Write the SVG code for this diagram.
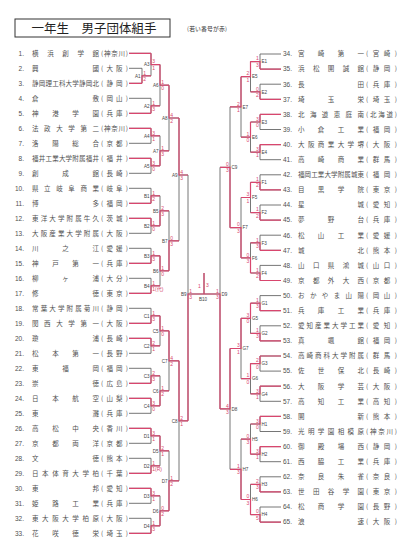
<svg xmlns="http://www.w3.org/2000/svg" width="404" height="554" viewBox="0 0 404 554">
<style>
.t{font-family:"Noto Sans CJK JP","Noto Sans",sans-serif;font-size:6.5px;fill:#505050}
.n{font-family:"Liberation Sans",sans-serif;font-size:6.5px;fill:#505050;text-anchor:end}
.nr{font-family:"Liberation Sans",sans-serif;font-size:6.5px;fill:#505050}
.lb{font-family:"Liberation Sans",sans-serif;font-size:4.6px;fill:#444;text-anchor:end}
.lr{font-family:"Liberation Sans",sans-serif;font-size:4.6px;fill:#444}
.s{font-family:"Liberation Sans","Noto Sans CJK JP",sans-serif;font-size:5px;fill:#d8466e}
.se{font-family:"Liberation Sans",sans-serif;font-size:5px;fill:#d8466e;text-anchor:end}
.k{fill:none;stroke:#666;stroke-width:0.9}
.r{fill:none;stroke:#d8466e;stroke-width:1.2}
</style>
<rect width="404" height="554" fill="#fff"/>
<g id="title">
<rect x="15" y="19" width="155" height="18" fill="none" stroke="#333" stroke-width="1"/>
<text x="94" y="32.5" text-anchor="middle" style="font-family:'Noto Sans CJK JP',sans-serif;font-size:12.5px;fill:#222">一年生　男子団体組手</text>
<text x="187" y="31" textLength="40" style="font-family:'Noto Sans CJK JP',sans-serif;font-size:5.8px;fill:#333">(若い番号が赤)</text>
</g>
<g id="connectors">
<path class="k" d="M129 53.3H151M129 68.3H142M129 83.3H142M129 98.3H151M129 113.3H151M129 128.3H151M129 143.3H151M129 158.3H151M129 173.3H151M129 188.3H151M129 203.3H151M129 218.3H151M129 233.3H151M129 248.3H151M129 263.3H151M129 278.3H151M129 293.3H151M129 308.3H151M129 323.3H151M129 338.3H151M129 353.3H151M129 368.3H151M129 383.3H151M129 398.3H151M129 413.3H151M129 428.3H151M129 443.3H151M129 458.3H151M129 473.3H151M129 488.3H151M129 503.3H151M129 518.3H151M129 533.3H151
M142 68.3V83.3M142 75.8H151M151 53.3V75.8M151 64.6H160M151 98.3V113.3M151 105.8H160M160 64.6V105.8M160 85.2H169M151 128.3V143.3M151 135.8H160M151 158.3V173.3M151 165.8H160M160 135.8V165.8M160 150.8H169M169 85.2V150.8M169 118H179
M151 188.3V203.3M151 195.8H160M151 218.3V233.3M151 225.8H160M160 195.8V225.8M160 210.8H169M151 248.3V263.3M151 255.8H160M151 278.3V293.3M151 285.8H160M160 255.8V285.8M160 270.8H169M169 210.8V270.8M169 240.8H179M179 118V240.8M179 175H188
M151 308.3V323.3M151 315.8H160M151 338.3V353.3M151 345.8H160M160 315.8V345.8M160 330.8H169M151 368.3V383.3M151 375.8H160M151 398.3V413.3M151 405.8H160M160 375.8V405.8M160 390.8H169M169 330.8V390.8M169 360.8H179
M151 428.3V443.3M151 435.8H160M151 458.3V473.3M151 465.8H160M160 435.8V465.8M160 450.8H169M151 488.3V503.3M151 495.8H160M151 518.3V533.3M151 525.8H160M160 495.8V525.8M160 510.8H169M169 450.8V510.8M169 480.8H179M179 360.8V480.8M179 420.8H188M188 175V420.8M188 294H204M204 273V294"/>
<path class="k" d="M281 54H260M281 69.1H260M281 84.2H260M281 99.3H260M281 114.4H260M281 129.5H260M281 144.6H260M281 159.7H260M281 174.8H260M281 189.9H260M281 205H260M281 220.1H260M281 235.2H260M281 250.3H260M281 265.4H260M281 280.5H260M281 295.6H260M281 310.7H260M281 325.8H260M281 340.9H260M281 356H260M281 371.1H260M281 386.2H260M281 401.3H260M281 416.4H260M281 431.5H260M281 446.6H260M281 461.7H260M281 476.8H260M281 491.9H260M281 507H260M281 522.1H260
M260 54V69.1M260 61.6H250.5M260 84.2V99.3M260 91.8H250.5M250.5 61.6V91.8M250.5 76.7H241M260 114.4V129.5M260 122H250.5M260 144.6V159.7M260 152.2H250.5M250.5 122V152.2M250.5 137.1H241M241 76.7V137.1M241 106.9H230
M260 174.8V189.9M260 182.4H250.5M260 205V220.1M260 212.6H250.5M250.5 182.4V212.6M250.5 197.5H241M260 235.2V250.3M260 242.8H250.5M260 265.4V280.5M260 273H250.5M250.5 242.8V273M250.5 257.9H241M241 197.5V257.9M241 227.7H230M230 106.9V227.7M230 167.3H220
M260 295.6V310.7M260 303.2H250.5M260 325.8V340.9M260 333.4H250.5M250.5 303.2V333.4M250.5 318.3H241M260 356V371.1M260 363.6H250.5M260 386.2V401.3M260 393.8H250.5M250.5 363.6V393.8M250.5 378.7H241M241 318.3V378.7M241 348.5H230
M260 416.4V431.5M260 424H250.5M260 446.6V461.7M260 454.2H250.5M250.5 424V454.2M250.5 439.1H241M260 476.8V491.9M260 484.4H250.5M260 507V522.1M260 514.6H250.5M250.5 484.4V514.6M250.5 499.5H241M241 439.1V499.5M241 469.3H230M230 348.5V469.3M230 408.9H220M220 167.3V408.9M220 294H204"/>
<path class="r" d="M129 53.3H151M129 83.3H142M129 113.3H151M129 128.3H151M129 158.3H151M129 203.3H151M129 218.3H151M129 263.3H151M129 293.3H151M129 323.3H151M129 338.3H151M129 383.3H151M129 398.3H151M129 428.3H151M129 473.3H151M129 488.3H151M129 533.3H151
M142 83.3V75.8H151M151 53.3V64.6H160M151 113.3V105.8H160M160 64.6V85.2H169M151 128.3V135.8H160M151 158.3V165.8H160M160 165.8V150.8H169M169 85.2V118H179
M151 203.3V195.8H160M151 218.3V225.8H160M160 225.8V210.8H169M151 263.3V255.8H160M151 293.3V285.8H160M160 255.8V270.8H169M169 270.8V240.8H179M179 118V175H188
M151 323.3V315.8H160M151 338.3V345.8H160M160 315.8V330.8H169M151 383.3V375.8H160M151 398.3V405.8H160M160 405.8V390.8H169M169 330.8V360.8H179
M151 428.3V435.8H160M151 473.3V465.8H160M160 435.8V450.8H169M151 488.3V495.8H160M151 533.3V525.8H160M160 525.8V510.8H169M169 510.8V480.8H179M179 360.8V420.8H188M188 420.8V294H204M204 294V273"/>
<path class="r" d="M281 69.1H260M281 99.3H260M281 114.4H260M281 144.6H260M281 189.9H260M281 220.1H260M281 250.3H260M281 280.5H260M281 310.7H260M281 340.9H260M281 356H260M281 386.2H260M281 416.4H260M281 446.6H260M281 491.9H260M281 522.1H260
M260 69.1V61.6H250.5M260 99.3V91.8H250.5M250.5 61.6V76.7H241M260 114.4V122H250.5M260 144.6V152.2H250.5M250.5 122V137.1H241M241 76.7V106.9H230
M260 189.9V182.4H250.5M260 220.1V212.6H250.5M250.5 182.4V197.5H241M260 250.3V242.8H250.5M260 280.5V273H250.5M250.5 273V257.9H241M241 257.9V227.7H230M230 227.7V167.3H220
M260 310.7V303.2H250.5M260 340.9V333.4H250.5M250.5 303.2V318.3H241M260 356V363.6H250.5M260 386.2V393.8H250.5M250.5 363.6V378.7H241M241 318.3V348.5H230
M260 416.4V424H250.5M260 446.6V454.2H250.5M250.5 454.2V439.1H241M260 491.9V484.4H250.5M260 522.1V514.6H250.5M250.5 514.6V499.5H241M241 499.5V469.3H230M230 348.5V408.9H220M220 408.9V294H204"/>
</g>
<g id="match-labels">
<text class="lb" x="140.5" y="77.5">A1</text><text class="lb" x="149.5" y="66.3">A3</text><text class="lb" x="149.5" y="107.5">A2</text><text class="lb" x="158.5" y="86.9">A6</text><text class="lb" x="149.5" y="137.5">A4</text><text class="lb" x="149.5" y="167.5">A5</text><text class="lb" x="158.5" y="152.5">A7</text><text class="lb" x="167.5" y="119.7">A8</text>
<text class="lb" x="149.5" y="197.5">B1</text><text class="lb" x="149.5" y="227.5">B2</text><text class="lb" x="158.5" y="212.5">B5</text><text class="lb" x="149.5" y="257.5">B3</text><text class="lb" x="149.5" y="287.5">B4</text><text class="lb" x="158.5" y="272.5">B6</text><text class="lb" x="167.5" y="242.5">B7</text><text class="lb" x="177.5" y="176.7">A9</text>
<text class="lb" x="149.5" y="317.5">C1</text><text class="lb" x="149.5" y="347.5">C2</text><text class="lb" x="158.5" y="332.5">C5</text><text class="lb" x="149.5" y="377.5">C3</text><text class="lb" x="149.5" y="407.5">C4</text><text class="lb" x="158.5" y="392.5">C6</text><text class="lb" x="167.5" y="362.5">C7</text>
<text class="lb" x="149.5" y="437.5">D1</text><text class="lb" x="149.5" y="467.5">D2</text><text class="lb" x="158.5" y="452.5">D5</text><text class="lb" x="149.5" y="497.5">D3</text><text class="lb" x="149.5" y="527.5">D4</text><text class="lb" x="158.5" y="512.5">D6</text><text class="lb" x="167.5" y="482.5">D7</text><text class="lb" x="177.5" y="422.5">C8</text>
<text class="lb" x="186.5" y="295.7">B9</text><text class="lr" x="199" y="300.5">B10</text>
<text class="lr" x="261.5" y="63.3">E1</text><text class="lr" x="261.5" y="93.5">E2</text><text class="lr" x="252" y="78.4">E5</text><text class="lr" x="261.5" y="123.7">E3</text><text class="lr" x="261.5" y="153.9">E4</text><text class="lr" x="252" y="138.8">E6</text><text class="lr" x="242.5" y="108.6">E7</text>
<text class="lr" x="261.5" y="184.1">F1</text><text class="lr" x="261.5" y="214.3">F2</text><text class="lr" x="252" y="199.2">F5</text><text class="lr" x="261.5" y="244.5">F3</text><text class="lr" x="261.5" y="274.7">F4</text><text class="lr" x="252" y="259.6">F6</text><text class="lr" x="242.5" y="229.4">F7</text><text class="lr" x="231.5" y="169">C9</text>
<text class="lr" x="261.5" y="304.9">G1</text><text class="lr" x="261.5" y="335.1">G2</text><text class="lr" x="252" y="320">G5</text><text class="lr" x="261.5" y="365.3">G3</text><text class="lr" x="261.5" y="395.5">G4</text><text class="lr" x="252" y="380.4">G6</text><text class="lr" x="242.5" y="350.2">G7</text>
<text class="lr" x="261.5" y="425.7">H1</text><text class="lr" x="261.5" y="455.9">H2</text><text class="lr" x="252" y="440.8">H5</text><text class="lr" x="261.5" y="486.1">H3</text><text class="lr" x="261.5" y="516.3">H4</text><text class="lr" x="252" y="501.2">H6</text><text class="lr" x="242.5" y="471">H7</text><text class="lr" x="231.5" y="410.6">D8</text><text class="lr" x="221.5" y="295.7">D9</text>
</g>
<g id="scores">
<text class="s" x="143.2" y="74.5">1</text><text class="s" x="143.2" y="80.8">2</text><text class="s" x="152.2" y="63.3">3</text><text class="s" x="152.2" y="69.6">1</text><text class="s" x="152.2" y="104.5">1</text><text class="s" x="152.2" y="110.8">3</text><text class="s" x="161.2" y="83.9">1</text><text class="s" x="161.2" y="90.2">0</text><text class="s" x="152.2" y="134.5">3</text><text class="s" x="152.2" y="140.8">1</text><text class="s" x="152.2" y="164.5">3</text><text class="s" x="152.2" y="170.8">0</text><text class="s" x="161.2" y="149.5">1</text><text class="s" x="161.2" y="155.8">3</text><text class="s" x="170.2" y="116.7">4</text><text class="s" x="170.2" y="123">2</text>
<text class="s" x="152.2" y="194.5">1</text><text class="s" x="152.2" y="200.8">2</text><text class="s" x="152.2" y="224.5">1</text><text class="s" x="152.2" y="230.8">0</text><text class="s" x="161.2" y="209.5">2</text><text class="s" x="161.2" y="215.8">3</text><text class="s" x="152.2" y="254.5">1</text><text class="s" x="152.2" y="260.8">3</text><text class="s" x="152.2" y="284.5">1</text><text class="s" x="152.2" y="290.8">1(代)</text><text class="s" x="161.2" y="269.5">1</text><text class="s" x="161.2" y="275.8">0</text><text class="s" x="170.2" y="239.5">0</text><text class="s" x="170.2" y="245.8">3</text><text class="s" x="180.2" y="173.7">4</text><text class="s" x="180.2" y="180">3</text>
<text class="s" x="152.2" y="314.5">1</text><text class="s" x="152.2" y="320.8">3</text><text class="s" x="152.2" y="344.5">2</text><text class="s" x="152.2" y="350.8">1</text><text class="s" x="161.2" y="329.5">1</text><text class="s" x="161.2" y="335.8">0</text><text class="s" x="152.2" y="374.5">2</text><text class="s" x="152.2" y="380.8">3</text><text class="s" x="152.2" y="404.5">3</text><text class="s" x="152.2" y="410.8">0</text><text class="s" x="161.2" y="389.5">1</text><text class="s" x="161.2" y="395.8">2</text><text class="s" x="170.2" y="359.5">4</text><text class="s" x="170.2" y="365.8">2</text>
<text class="s" x="152.2" y="434.5">3</text><text class="s" x="152.2" y="440.8">1</text><text class="s" x="152.2" y="464.5">1</text><text class="s" x="152.2" y="470.8">1(R)</text><text class="s" x="161.2" y="449.5">2</text><text class="s" x="161.2" y="455.8">1</text><text class="s" x="152.2" y="494.5">3</text><text class="s" x="152.2" y="500.8">1</text><text class="s" x="152.2" y="524.5">1</text><text class="s" x="152.2" y="530.8">3</text><text class="s" x="161.2" y="509.5">0</text><text class="s" x="161.2" y="515.8">2</text><text class="s" x="170.2" y="479.5">1</text><text class="s" x="170.2" y="485.8">2</text><text class="s" x="180.2" y="419.5">2</text><text class="s" x="180.2" y="425.8">1</text>
<text class="s" x="189.2" y="292.7">1</text><text class="s" x="189.2" y="299">3</text><text class="s" x="198" y="288">1</text><text class="s" x="206" y="287">3</text>
<text class="se" x="258.8" y="60.3">1</text><text class="se" x="258.8" y="66.6">3</text><text class="se" x="258.8" y="90.5">0</text><text class="se" x="258.8" y="96.8">2</text><text class="se" x="249.3" y="75.4">2</text><text class="se" x="249.3" y="81.7">1</text><text class="se" x="258.8" y="120.7">3</text><text class="se" x="258.8" y="127">0</text><text class="se" x="258.8" y="150.9">3</text><text class="se" x="258.8" y="157.2">1</text><text class="se" x="249.3" y="135.8">1</text><text class="se" x="249.3" y="142.1">0</text><text class="se" x="239.8" y="105.6">2</text><text class="se" x="239.8" y="111.9">1</text><text class="se" x="228.8" y="166">0</text><text class="se" x="228.8" y="172.3">3</text>
<text class="se" x="258.8" y="181.1">1</text><text class="se" x="258.8" y="187.4">2</text><text class="se" x="258.8" y="211.3">1</text><text class="se" x="258.8" y="217.6">2</text><text class="se" x="249.3" y="196.2">3</text><text class="se" x="249.3" y="202.5">1</text><text class="se" x="258.8" y="241.5">1</text><text class="se" x="258.8" y="247.8">3</text><text class="se" x="258.8" y="271.7">1</text><text class="se" x="258.8" y="278">2</text><text class="se" x="249.3" y="256.6">0</text><text class="se" x="249.3" y="262.9">3</text><text class="se" x="239.8" y="226.4">0</text><text class="se" x="239.8" y="232.7">3</text>
<text class="se" x="258.8" y="301.9">1</text><text class="se" x="258.8" y="308.2">3</text><text class="se" x="258.8" y="332.1">1</text><text class="se" x="258.8" y="338.4">3</text><text class="se" x="249.3" y="317">3</text><text class="se" x="249.3" y="323.3">0</text><text class="se" x="258.8" y="362.3">2</text><text class="se" x="258.8" y="368.6">0</text><text class="se" x="258.8" y="392.5">3</text><text class="se" x="258.8" y="398.8">1</text><text class="se" x="249.3" y="377.4">1</text><text class="se" x="249.3" y="383.7">0</text><text class="se" x="239.8" y="347.2">3</text><text class="se" x="239.8" y="353.5">1</text>
<text class="se" x="258.8" y="422.7">3</text><text class="se" x="258.8" y="429">0</text><text class="se" x="258.8" y="452.9">3</text><text class="se" x="258.8" y="459.2">1</text><text class="se" x="249.3" y="437.8">0</text><text class="se" x="249.3" y="444.1">3</text><text class="se" x="258.8" y="483.1">2</text><text class="se" x="258.8" y="489.4">3</text><text class="se" x="258.8" y="513.3">0</text><text class="se" x="258.8" y="519.6">5</text><text class="se" x="249.3" y="498.2">0</text><text class="se" x="249.3" y="504.5">3</text><text class="se" x="239.8" y="468">1</text><text class="se" x="239.8" y="474.3">3</text><text class="se" x="228.8" y="407.6">4</text><text class="se" x="228.8" y="413.9">3</text><text class="se" x="218.8" y="292.7">1</text><text class="se" x="218.8" y="299">3</text>
</g>
<g id="e1" transform="translate(0,53.3)"><text class="n" x="24" y="2.3">1.</text><text class="t" x="32" y="2.3" textLength="67">横浜創学館</text><text class="t" x="101" y="2.3" textLength="27">(神奈川)</text></g>
<g id="e2" transform="translate(0,68.3)"><text class="n" x="24" y="2.3">2.</text><text class="t" x="32" y="2.3" textLength="67">興國</text><text class="t" x="101" y="2.3" textLength="27">(大阪)</text></g>
<g id="e3" transform="translate(0,83.3)"><text class="n" x="24" y="2.3">3.</text><text class="t" x="32" y="2.3" textLength="67">静岡理工科大学静岡北</text><text class="t" x="101" y="2.3" textLength="27">(静岡)</text></g>
<g id="e4" transform="translate(0,98.3)"><text class="n" x="24" y="2.3">4.</text><text class="t" x="32" y="2.3" textLength="67">倉敷</text><text class="t" x="101" y="2.3" textLength="27">(岡山)</text></g>
<g id="e5" transform="translate(0,113.3)"><text class="n" x="24" y="2.3">5.</text><text class="t" x="32" y="2.3" textLength="67">神港学園</text><text class="t" x="101" y="2.3" textLength="27">(兵庫)</text></g>
<g id="e6" transform="translate(0,128.3)"><text class="n" x="24" y="2.3">6.</text><text class="t" x="32" y="2.3" textLength="67">法政大学第二</text><text class="t" x="101" y="2.3" textLength="27">(神奈川)</text></g>
<g id="e7" transform="translate(0,143.3)"><text class="n" x="24" y="2.3">7.</text><text class="t" x="32" y="2.3" textLength="67">洛陽総合</text><text class="t" x="101" y="2.3" textLength="27">(京都)</text></g>
<g id="e8" transform="translate(0,158.3)"><text class="n" x="24" y="2.3">8.</text><text class="t" x="32" y="2.3" textLength="67">福井工業大学附属福井</text><text class="t" x="101" y="2.3" textLength="27">(福井)</text></g>
<g id="e9" transform="translate(0,173.3)"><text class="n" x="24" y="2.3">9.</text><text class="t" x="32" y="2.3" textLength="67">創成館</text><text class="t" x="101" y="2.3" textLength="27">(長崎)</text></g>
<g id="e10" transform="translate(0,188.3)"><text class="n" x="24" y="2.3">10.</text><text class="t" x="32" y="2.3" textLength="67">県立岐阜商業</text><text class="t" x="101" y="2.3" textLength="27">(岐阜)</text></g>
<g id="e11" transform="translate(0,203.3)"><text class="n" x="24" y="2.3">11.</text><text class="t" x="32" y="2.3" textLength="67">博多</text><text class="t" x="101" y="2.3" textLength="27">(福岡)</text></g>
<g id="e12" transform="translate(0,218.3)"><text class="n" x="24" y="2.3">12.</text><text class="t" x="32" y="2.3" textLength="67">東洋大学附属牛久</text><text class="t" x="101" y="2.3" textLength="27">(茨城)</text></g>
<g id="e13" transform="translate(0,233.3)"><text class="n" x="24" y="2.3">13.</text><text class="t" x="32" y="2.3" textLength="67">大阪産業大学附属</text><text class="t" x="101" y="2.3" textLength="27">(大阪)</text></g>
<g id="e14" transform="translate(0,248.3)"><text class="n" x="24" y="2.3">14.</text><text class="t" x="32" y="2.3" textLength="67">川之江</text><text class="t" x="101" y="2.3" textLength="27">(愛媛)</text></g>
<g id="e15" transform="translate(0,263.3)"><text class="n" x="24" y="2.3">15.</text><text class="t" x="32" y="2.3" textLength="67">神戸第一</text><text class="t" x="101" y="2.3" textLength="27">(兵庫)</text></g>
<g id="e16" transform="translate(0,278.3)"><text class="n" x="24" y="2.3">16.</text><text class="t" x="32" y="2.3" textLength="67">柳ヶ浦</text><text class="t" x="101" y="2.3" textLength="27">(大分)</text></g>
<g id="e17" transform="translate(0,293.3)"><text class="n" x="24" y="2.3">17.</text><text class="t" x="32" y="2.3" textLength="67">修徳</text><text class="t" x="101" y="2.3" textLength="27">(東京)</text></g>
<g id="e18" transform="translate(0,308.3)"><text class="n" x="24" y="2.3">18.</text><text class="t" x="32" y="2.3" textLength="67">常葉大学附属菊川</text><text class="t" x="101" y="2.3" textLength="27">(静岡)</text></g>
<g id="e19" transform="translate(0,323.3)"><text class="n" x="24" y="2.3">19.</text><text class="t" x="32" y="2.3" textLength="67">関西大学第一</text><text class="t" x="101" y="2.3" textLength="27">(大阪)</text></g>
<g id="e20" transform="translate(0,338.3)"><text class="n" x="24" y="2.3">20.</text><text class="t" x="32" y="2.3" textLength="67">瓊浦</text><text class="t" x="101" y="2.3" textLength="27">(長崎)</text></g>
<g id="e21" transform="translate(0,353.3)"><text class="n" x="24" y="2.3">21.</text><text class="t" x="32" y="2.3" textLength="67">松本第一</text><text class="t" x="101" y="2.3" textLength="27">(長野)</text></g>
<g id="e22" transform="translate(0,368.3)"><text class="n" x="24" y="2.3">22.</text><text class="t" x="32" y="2.3" textLength="67">東福岡</text><text class="t" x="101" y="2.3" textLength="27">(福岡)</text></g>
<g id="e23" transform="translate(0,383.3)"><text class="n" x="24" y="2.3">23.</text><text class="t" x="32" y="2.3" textLength="67">崇徳</text><text class="t" x="101" y="2.3" textLength="27">(広島)</text></g>
<g id="e24" transform="translate(0,398.3)"><text class="n" x="24" y="2.3">24.</text><text class="t" x="32" y="2.3" textLength="67">日本航空</text><text class="t" x="101" y="2.3" textLength="27">(山梨)</text></g>
<g id="e25" transform="translate(0,413.3)"><text class="n" x="24" y="2.3">25.</text><text class="t" x="32" y="2.3" textLength="67">東灘</text><text class="t" x="101" y="2.3" textLength="27">(兵庫)</text></g>
<g id="e26" transform="translate(0,428.3)"><text class="n" x="24" y="2.3">26.</text><text class="t" x="32" y="2.3" textLength="67">高松中央</text><text class="t" x="101" y="2.3" textLength="27">(香川)</text></g>
<g id="e27" transform="translate(0,443.3)"><text class="n" x="24" y="2.3">27.</text><text class="t" x="32" y="2.3" textLength="67">京都両洋</text><text class="t" x="101" y="2.3" textLength="27">(京都)</text></g>
<g id="e28" transform="translate(0,458.3)"><text class="n" x="24" y="2.3">28.</text><text class="t" x="32" y="2.3" textLength="67">文徳</text><text class="t" x="101" y="2.3" textLength="27">(熊本)</text></g>
<g id="e29" transform="translate(0,473.3)"><text class="n" x="24" y="2.3">29.</text><text class="t" x="32" y="2.3" textLength="67">日本体育大学柏</text><text class="t" x="101" y="2.3" textLength="27">(千葉)</text></g>
<g id="e30" transform="translate(0,488.3)"><text class="n" x="24" y="2.3">30.</text><text class="t" x="32" y="2.3" textLength="67">東邦</text><text class="t" x="101" y="2.3" textLength="27">(愛知)</text></g>
<g id="e31" transform="translate(0,503.3)"><text class="n" x="24" y="2.3">31.</text><text class="t" x="32" y="2.3" textLength="67">姫路工業</text><text class="t" x="101" y="2.3" textLength="27">(兵庫)</text></g>
<g id="e32" transform="translate(0,518.3)"><text class="n" x="24" y="2.3">32.</text><text class="t" x="32" y="2.3" textLength="67">東大阪大学柏原</text><text class="t" x="101" y="2.3" textLength="27">(大阪)</text></g>
<g id="e33" transform="translate(0,533.3)"><text class="n" x="24" y="2.3">33.</text><text class="t" x="32" y="2.3" textLength="67">花咲徳栄</text><text class="t" x="101" y="2.3" textLength="27">(埼玉)</text></g>
<g id="e34" transform="translate(0,54)"><text class="nr" x="283" y="2.3">34.</text><text class="t" x="298" y="2.3" textLength="66">宮崎第一</text><text class="t" x="366" y="2.3" textLength="31">(宮崎)</text></g>
<g id="e35" transform="translate(0,69.1)"><text class="nr" x="283" y="2.3">35.</text><text class="t" x="298" y="2.3" textLength="66">浜松開誠館</text><text class="t" x="366" y="2.3" textLength="31">(静岡)</text></g>
<g id="e36" transform="translate(0,84.2)"><text class="nr" x="283" y="2.3">36.</text><text class="t" x="298" y="2.3" textLength="66">長田</text><text class="t" x="366" y="2.3" textLength="31">(兵庫)</text></g>
<g id="e37" transform="translate(0,99.3)"><text class="nr" x="283" y="2.3">37.</text><text class="t" x="298" y="2.3" textLength="66">埼玉栄</text><text class="t" x="366" y="2.3" textLength="31">(埼玉)</text></g>
<g id="e38" transform="translate(0,114.4)"><text class="nr" x="283" y="2.3">38.</text><text class="t" x="298" y="2.3" textLength="66">北海道恵庭南</text><text class="t" x="366" y="2.3" textLength="31">(北海道)</text></g>
<g id="e39" transform="translate(0,129.5)"><text class="nr" x="283" y="2.3">39.</text><text class="t" x="298" y="2.3" textLength="66">小倉工業</text><text class="t" x="366" y="2.3" textLength="31">(福岡)</text></g>
<g id="e40" transform="translate(0,144.6)"><text class="nr" x="283" y="2.3">40.</text><text class="t" x="298" y="2.3" textLength="66">大阪商業大学堺</text><text class="t" x="366" y="2.3" textLength="31">(大阪)</text></g>
<g id="e41" transform="translate(0,159.7)"><text class="nr" x="283" y="2.3">41.</text><text class="t" x="298" y="2.3" textLength="66">高崎商業</text><text class="t" x="366" y="2.3" textLength="31">(群馬)</text></g>
<g id="e42" transform="translate(0,174.8)"><text class="nr" x="283" y="2.3">42.</text><text class="t" x="298" y="2.3" textLength="66">福岡工業大学附属城東</text><text class="t" x="366" y="2.3" textLength="31">(福岡)</text></g>
<g id="e43" transform="translate(0,189.9)"><text class="nr" x="283" y="2.3">43.</text><text class="t" x="298" y="2.3" textLength="66">目黒学院</text><text class="t" x="366" y="2.3" textLength="31">(東京)</text></g>
<g id="e44" transform="translate(0,205)"><text class="nr" x="283" y="2.3">44.</text><text class="t" x="298" y="2.3" textLength="66">星城</text><text class="t" x="366" y="2.3" textLength="31">(愛知)</text></g>
<g id="e45" transform="translate(0,220.1)"><text class="nr" x="283" y="2.3">45.</text><text class="t" x="298" y="2.3" textLength="66">夢野台</text><text class="t" x="366" y="2.3" textLength="31">(兵庫)</text></g>
<g id="e46" transform="translate(0,235.2)"><text class="nr" x="283" y="2.3">46.</text><text class="t" x="298" y="2.3" textLength="66">松山工業</text><text class="t" x="366" y="2.3" textLength="31">(愛媛)</text></g>
<g id="e47" transform="translate(0,250.3)"><text class="nr" x="283" y="2.3">47.</text><text class="t" x="298" y="2.3" textLength="66">城北</text><text class="t" x="366" y="2.3" textLength="31">(熊本)</text></g>
<g id="e48" transform="translate(0,265.4)"><text class="nr" x="283" y="2.3">48.</text><text class="t" x="298" y="2.3" textLength="66">山口県鴻城</text><text class="t" x="366" y="2.3" textLength="31">(山口)</text></g>
<g id="e49" transform="translate(0,280.5)"><text class="nr" x="283" y="2.3">49.</text><text class="t" x="298" y="2.3" textLength="66">京都外大西</text><text class="t" x="366" y="2.3" textLength="31">(京都)</text></g>
<g id="e50" transform="translate(0,295.6)"><text class="nr" x="283" y="2.3">50.</text><text class="t" x="298" y="2.3" textLength="66">おかやま山陽</text><text class="t" x="366" y="2.3" textLength="31">(岡山)</text></g>
<g id="e51" transform="translate(0,310.7)"><text class="nr" x="283" y="2.3">51.</text><text class="t" x="298" y="2.3" textLength="66">兵庫工業</text><text class="t" x="366" y="2.3" textLength="31">(兵庫)</text></g>
<g id="e52" transform="translate(0,325.8)"><text class="nr" x="283" y="2.3">52.</text><text class="t" x="298" y="2.3" textLength="66">愛知産業大学工業</text><text class="t" x="366" y="2.3" textLength="31">(愛知)</text></g>
<g id="e53" transform="translate(0,340.9)"><text class="nr" x="283" y="2.3">53.</text><text class="t" x="298" y="2.3" textLength="66">真颯館</text><text class="t" x="366" y="2.3" textLength="31">(福岡)</text></g>
<g id="e54" transform="translate(0,356)"><text class="nr" x="283" y="2.3">54.</text><text class="t" x="298" y="2.3" textLength="66">高崎商科大学附属</text><text class="t" x="366" y="2.3" textLength="31">(群馬)</text></g>
<g id="e55" transform="translate(0,371.1)"><text class="nr" x="283" y="2.3">55.</text><text class="t" x="298" y="2.3" textLength="66">佐世保北</text><text class="t" x="366" y="2.3" textLength="31">(長崎)</text></g>
<g id="e56" transform="translate(0,386.2)"><text class="nr" x="283" y="2.3">56.</text><text class="t" x="298" y="2.3" textLength="66">大阪学芸</text><text class="t" x="366" y="2.3" textLength="31">(大阪)</text></g>
<g id="e57" transform="translate(0,401.3)"><text class="nr" x="283" y="2.3">57.</text><text class="t" x="298" y="2.3" textLength="66">高知工業</text><text class="t" x="366" y="2.3" textLength="31">(高知)</text></g>
<g id="e58" transform="translate(0,416.4)"><text class="nr" x="283" y="2.3">58.</text><text class="t" x="298" y="2.3" textLength="66">開新</text><text class="t" x="366" y="2.3" textLength="31">(熊本)</text></g>
<g id="e59" transform="translate(0,431.5)"><text class="nr" x="283" y="2.3">59.</text><text class="t" x="298" y="2.3" textLength="66">光明学園相模原</text><text class="t" x="366" y="2.3" textLength="31">(神奈川)</text></g>
<g id="e60" transform="translate(0,446.6)"><text class="nr" x="283" y="2.3">60.</text><text class="t" x="298" y="2.3" textLength="66">御殿場西</text><text class="t" x="366" y="2.3" textLength="31">(静岡)</text></g>
<g id="e61" transform="translate(0,461.7)"><text class="nr" x="283" y="2.3">61.</text><text class="t" x="298" y="2.3" textLength="66">西脇工業</text><text class="t" x="366" y="2.3" textLength="31">(兵庫)</text></g>
<g id="e62" transform="translate(0,476.8)"><text class="nr" x="283" y="2.3">62.</text><text class="t" x="298" y="2.3" textLength="66">奈良朱雀</text><text class="t" x="366" y="2.3" textLength="31">(奈良)</text></g>
<g id="e63" transform="translate(0,491.9)"><text class="nr" x="283" y="2.3">63.</text><text class="t" x="298" y="2.3" textLength="66">世田谷学園</text><text class="t" x="366" y="2.3" textLength="31">(東京)</text></g>
<g id="e64" transform="translate(0,507)"><text class="nr" x="283" y="2.3">64.</text><text class="t" x="298" y="2.3" textLength="66">松商学園</text><text class="t" x="366" y="2.3" textLength="31">(長野)</text></g>
<g id="e65" transform="translate(0,522.1)"><text class="nr" x="283" y="2.3">65.</text><text class="t" x="298" y="2.3" textLength="66">浪速</text><text class="t" x="366" y="2.3" textLength="31">(大阪)</text></g>
</svg>
